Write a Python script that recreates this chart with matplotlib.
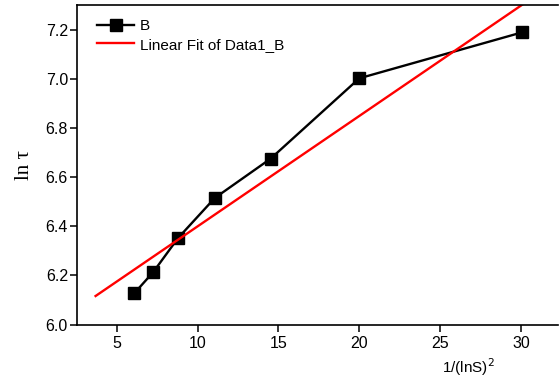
import matplotlib
matplotlib.use("Agg")
import matplotlib.pyplot as plt

plt.rcParams['font.family'] = ['Liberation Sans', 'DejaVu Sans']

# --- datos ---
x_b = [6.09, 7.26, 8.80, 11.07, 14.52, 20.0, 30.06]
y_b = [6.127, 6.213, 6.352, 6.515, 6.675, 7.002, 7.189]
fit_x = [3.70, 30.06]
fit_y = [6.116, 7.301]

x_ticks = [5, 10, 15, 20, 25, 30]
y_ticks = [6.0, 6.2, 6.4, 6.6, 6.8, 7.0, 7.2]

fig = plt.figure(figsize=(5.59, 3.83), dpi=100)
ax = fig.add_axes([0.1377, 0.1527, 0.861, 0.834])

ax.plot(x_b, y_b, color='black', lw=1.7, marker='s', ms=8,
        markerfacecolor='black', markeredgecolor='black', label='B')
ax.plot(fit_x, fit_y, color='red', lw=1.7, label='Linear Fit of Data1_B')

ax.set_xlim(2.55, 32.3)
ax.set_ylim(6.0, 7.30)
ax.set_xticks(x_ticks)
ax.set_yticks(y_ticks)
ax.set_yticklabels([f'{v:.1f}' for v in y_ticks])

for s in ['left', 'bottom', 'top']:
    ax.spines[s].set_linewidth(1.2)
ax.spines['right'].set_visible(False)

ax.tick_params(axis='both', direction='out', length=5, width=1.1,
               labelsize=11.5, colors='black')
ax.tick_params(axis='x', pad=3)
ax.tick_params(axis='y', pad=1.5)

ax.set_ylabel('ln τ', family=['Liberation Serif', 'DejaVu Serif'],
              fontsize=15, labelpad=8)
ax.text(0.813, -0.135, r'1/(lnS)$^2$', transform=ax.transAxes, fontsize=11,
        ha='center', va='center')

ax.legend(loc='upper left', frameon=False, fontsize=11, handlelength=2.4,
          handletextpad=0.4, borderaxespad=0.3, labelspacing=0.3,
          bbox_to_anchor=(0.02, 0.99))

fig.savefig('out.png', dpi=100)
